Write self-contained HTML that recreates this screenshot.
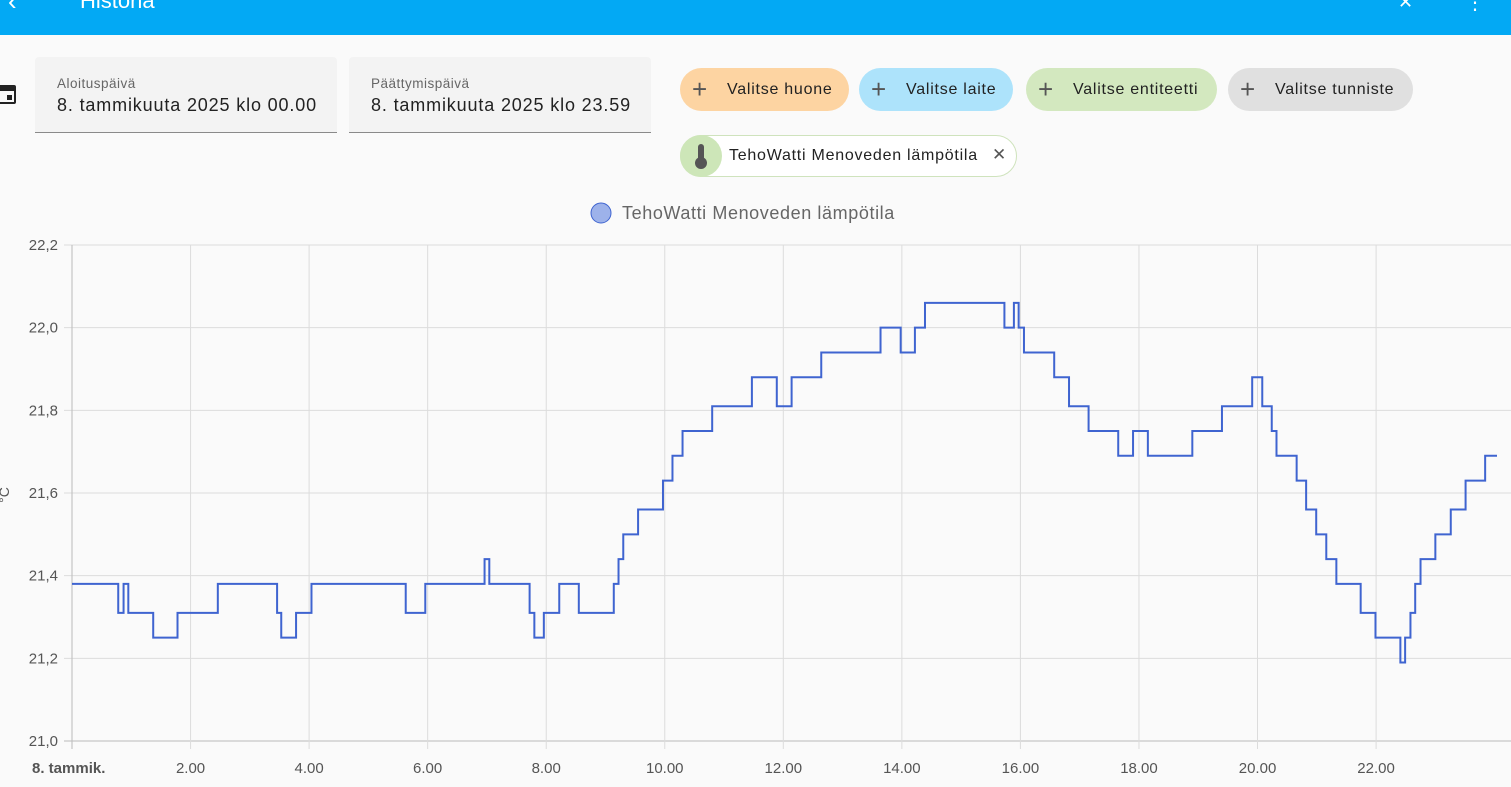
<!DOCTYPE html>
<html><head><meta charset="utf-8"><style>
body{margin:0;width:1511px;height:787px;overflow:hidden;background:#fafafa;font-family:"Liberation Sans",sans-serif;position:relative}
.abs{position:absolute}
.topbar{left:0;top:0;width:1511px;height:35px;background:#03a9f4}
.field{top:57px;height:75px;background:#f3f3f3;border-bottom:1px solid #8a8a8a;border-radius:4px 4px 0 0}
.field .lbl{position:absolute;left:22px;top:19px;font-size:13.5px;color:#666;letter-spacing:0.5px}
.field .val{position:absolute;left:22px;top:38px;font-size:18px;color:#222;letter-spacing:0.85px}
.chip{top:68px;height:43px;border-radius:22px;font-size:16px;color:#222;line-height:43px;box-sizing:border-box;letter-spacing:0.75px}
.chip .plus{position:absolute;left:12px;top:0;font-size:26px;color:#555;font-weight:300;letter-spacing:0}
.chip .t{position:absolute;left:47px}
</style></head><body>
<div class="abs topbar">
 <div class="abs" style="left:8px;top:-14px;color:#fff;font-size:26px">‹</div>
 <div class="abs" style="left:80px;top:-12px;color:#fff;font-size:22px">Historia</div>
 <div class="abs" style="left:1398px;top:-8px;color:#fff;font-size:18px">✕</div>
 <div class="abs" style="left:1465px;top:-10px;color:#fff;font-size:20px">⋮</div>
</div>
<div class="abs" style="left:-2px;top:82px;width:20px;height:24px">
 <div style="position:absolute;left:0;top:3px;width:18px;height:19px;background:#222;border-radius:2px"></div>
 <div style="position:absolute;left:2px;top:9px;width:14px;height:11px;background:#fafafa"></div>
 <div style="position:absolute;left:9px;top:13px;width:5px;height:5px;background:#222"></div>
</div>
<div class="abs field" style="left:35px;width:302px"><div class="lbl">Aloituspäivä</div><div class="val">8. tammikuuta 2025 klo 00.00</div></div>
<div class="abs field" style="left:349px;width:302px"><div class="lbl">Päättymispäivä</div><div class="val">8. tammikuuta 2025 klo 23.59</div></div>
<div class="abs chip" style="left:680px;width:169px;background:#fdd4a2"><span class="plus">+</span><span class="t">Valitse huone</span></div>
<div class="abs chip" style="left:859px;width:154px;background:#ade3fb"><span class="plus">+</span><span class="t">Valitse laite</span></div>
<div class="abs chip" style="left:1026px;width:191px;background:#d3e8bf"><span class="plus">+</span><span class="t">Valitse entiteetti</span></div>
<div class="abs chip" style="left:1228px;width:185px;background:#e0e0e0"><span class="plus">+</span><span class="t">Valitse tunniste</span></div>
<div class="abs" style="left:680px;top:135px;width:337px;height:42px;border:1px solid #cfe3bd;border-radius:22px;box-sizing:border-box;background:#fff">
 <div class="abs" style="left:-1px;top:-1px;width:42px;height:42px;border-radius:21px;background:#cde6b8">
  <div class="abs" style="left:18px;top:9px;width:6px;height:17px;background:#555;border-radius:3px"></div>
  <div class="abs" style="left:15px;top:22px;width:12px;height:12px;background:#555;border-radius:6px"></div>
 </div>
 <div class="abs" style="left:48px;top:11px;font-size:16px;color:#222;letter-spacing:0.75px">TehoWatti Menoveden lämpötila</div>
 <div class="abs" style="left:311px;top:9px;font-size:17px;color:#555">✕</div>
</div>
<svg class="abs" style="left:0;top:0" width="1511" height="787" id="chart"></svg>
<script>
const times=[0,0.78,0.87,0.95,1.37,1.78,2.46,3.46,3.53,3.78,4.04,5.63,5.96,6.96,7.04,7.72,7.80,7.96,8.22,8.55,9.14,9.22,9.30,9.55,9.97,10.13,10.30,10.80,11.47,11.89,12.14,12.64,13.64,13.98,14.22,14.39,15.73,15.89,15.97,16.06,16.57,16.82,17.15,17.65,17.90,18.15,18.90,19.40,19.91,20.08,20.24,20.32,20.66,20.82,20.99,21.16,21.33,21.74,21.99,22.41,22.49,22.58,22.66,22.75,23.00,23.26,23.51,23.84];
const temps=[21.38,21.31,21.38,21.31,21.25,21.31,21.38,21.31,21.25,21.31,21.38,21.31,21.38,21.44,21.38,21.31,21.25,21.31,21.38,21.31,21.38,21.44,21.50,21.56,21.63,21.69,21.75,21.81,21.88,21.81,21.88,21.94,22.00,21.94,22.00,22.06,22.00,22.06,22.00,21.94,21.88,21.81,21.75,21.69,21.75,21.69,21.75,21.81,21.88,21.81,21.75,21.69,21.63,21.56,21.50,21.44,21.38,21.31,21.25,21.19,21.25,21.31,21.38,21.44,21.50,21.56,21.63,21.69];
const yTicks=[21.0,21.2,21.4,21.6,21.8,22.0,22.2];
const yTickLabels=["21,0","21,2","21,4","21,6","21,8","22,0","22,2"];
const xTicks=[0,2,4,6,8,10,12,14,16,18,20,22];
const xTickLabels=["8. tammik.","2.00","4.00","6.00","8.00","10.00","12.00","14.00","16.00","18.00","20.00","22.00"];
const endTime=24.04;
const X0=72,X1=1497,Y0=741,Y1=245;
const xs=h=>X0+(h/endTime)*(X1-X0);
const ys=v=>Y0-(v-21.0)/(22.2-21.0)*(Y0-Y1);
const svg=document.getElementById('chart');
const NS='http://www.w3.org/2000/svg';
function mk(t,a){const e=document.createElementNS(NS,t);for(const k in a)e.setAttribute(k,a[k]);svg.appendChild(e);return e;}
yTicks.forEach((v,i)=>{
 const l=mk('line',{x1:X0-8,x2:1511,y1:ys(v),y2:ys(v),stroke:i==0?'#bbb':'#dcdcdc','stroke-width':1});
 
 
 const t=mk('text',{x:58,y:ys(v)+5,'text-anchor':'end','font-size':15,fill:'#555'});
 t.textContent=yTickLabels[i];
 
 
});
xTicks.forEach((h,i)=>{
 const l=mk('line',{x1:xs(h),x2:xs(h),y1:Y1,y2:Y0+8,stroke:i==0?'#bbb':'#dcdcdc','stroke-width':1});
 
 
 const t=mk('text',{x:xs(h),y:773,'text-anchor':i==0?'start':'middle','font-size':15,fill:'#555','font-weight':i==0?'bold':'normal'});
 if(i==0)t.setAttribute('x',X0-40);
 t.textContent=xTickLabels[i];
 
 
});
const yt=mk('text',{x:0,y:0,'font-size':14,fill:'#555',transform:'translate(9,495) rotate(-90)','text-anchor':'middle'});
yt.textContent='°C';


let d='M'+xs(times[0])+' '+ys(temps[0]);
for(let i=1;i<times.length;i++){d+=' H'+xs(times[i])+' V'+ys(temps[i]);}
d+=' H'+X1;
const p=mk('path',{d:d,fill:'none',stroke:'#3f64d0','stroke-width':2});


const lc=mk('circle',{cx:601,cy:213,r:10,fill:'#9db2ea',stroke:'#3f64d0','stroke-width':1});


const lt=mk('text',{x:622,y:219,'font-size':18,fill:'#666','letter-spacing':'0.6'});
lt.textContent='TehoWatti Menoveden lämpötila';


</script>
</body></html>
